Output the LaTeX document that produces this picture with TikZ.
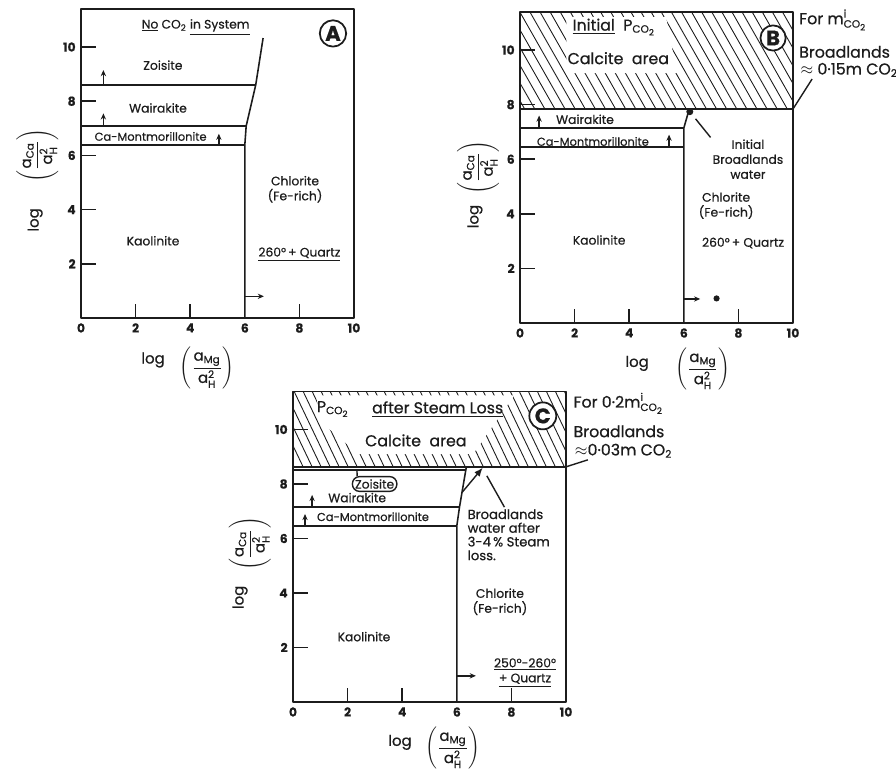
\documentclass[tikz,border=0pt]{standalone}
\usepackage{fontspec}
\usepackage{amsmath}
\setmainfont{Poppins}[FakeBold=0.6]
\usetikzlibrary{arrows.meta,calc}
\definecolor{ink}{RGB}{28,28,28}

\newcommand{\cotwo}{CO\textsubscript{2}}
\newcommand{\yfrac}{$\left(\rule[-10pt]{0pt}{23pt}\dfrac{\text{a}_{\text{Ca}}}{\text{a}^{\text{2}}_{\text{H}}}\right)$}
\newcommand{\xfrac}{$\left(\rule[-10pt]{0pt}{23pt}\dfrac{\text{a}_{\text{Mg}}}{\text{a}^{\text{2}}_{\text{H}}}\right)$}

% frame, ticks and tick labels of one panel
\newcommand{\panelframe}[1]{%
  \draw[frame] (0,0) rectangle (10,11.4);
  \foreach \t in {2,4,...,10} {
    \draw[frame] (0,\t) -- (0.55,\t);
    \node[tick,anchor=east] (#1y\t) at (-0.12,\t) {\t};
  }
  \foreach \t in {2,4,8} \draw[frame] (\t,0) -- (\t,0.5);
  \foreach \t in {0,2,...,10} \node[tick,anchor=north] (#1x\t) at (\t,-0.12) {\t};
}
% diagonal hatching: bottom, top, run, spacing
\newcommand{\hatchband}[4]{%
  \begin{scope}
    \clip (0,#1) rectangle (10,#2);
    \foreach \i in {0,...,45} \draw[hatch] (\i*#4-2.6,#2) -- ++(#3,#1-#2);
  \end{scope}
}

\begin{document}
\begin{tikzpicture}[
  line join=round,
  every node/.style={font=\fontsize{7}{8.5}\selectfont, text=ink, inner sep=1pt},
  frame/.style={draw=ink, line width=0.9pt},
  bound/.style={draw=ink, line width=0.9pt},
  hatch/.style={draw=ink, line width=0.5pt},
  up/.style={draw=ink, line width=0.8pt, -{Stealth[length=3.5pt,width=3pt]}},
  ptr/.style={draw=ink, line width=0.8pt},
  tick/.style={font=\fontsize{7}{8}\selectfont\bfseries},
  axl/.style={font=\fontsize{8.5}{10}\selectfont},
  big/.style={font=\fontsize{9}{10}\selectfont},
  note/.style={font=\fontsize{9}{10}\selectfont, anchor=west},
  circ/.style={circle, draw=ink, line width=1pt, fill=white, inner sep=1pt,
               minimum size=0.48cm, font=\fontsize{12}{12}\selectfont\bfseries},
  dot/.style={circle, fill=ink, inner sep=0pt, minimum size=4pt},
  clear/.style={fill=white, draw=none}
]
\useasboundingbox (0,0) rectangle (17.92,15.52);

% ---- panel A
\begin{scope}[shift={(1.62cm,9.16cm)}, x=0.546cm, y=0.542cm]
  \panelframe{A}
  \draw[bound] (6,0) -- (6,6.38) -- (6.05,7.08) -- (6.4,8.6) -- (6.67,10.33);
  \draw[bound] (0,8.6) -- (6.4,8.6) (0,7.08) -- (6.05,7.08) (0,6.38) -- (6,6.38);
  \draw[up] (0.82,8.6) -- (0.82,9.15);
  \draw[up] (0.82,7.08) -- (0.82,7.55);
  \draw[up] (5.05,6.38) -- (5.05,6.8);
  \draw[up] (6,0.8) -- (6.7,0.8);
  \node (titA) at (4.2,10.74) {\underline{No}\ \cotwo\ \underline{in System}};
  \node (zoiA) at (3.0,9.33) {Zoisite};
  \node (waiA) at (2.82,7.75) {Wairakite};
  \node[font=\fontsize{6.5}{8}\selectfont] (monA) at (2.55,6.7) {Ca-Montmorillonite};
  \node (kaoA) at (2.64,2.85) {Kaolinite};
  \node[align=center] (chlA) at (7.84,4.75) {Chlorite\\(Fe-rich)};
  \node (tqA) at (8.0,2.35) {\underline{260°\,+ Quartz}};
  \node[circ] (circA) at (9.23,10.5) {A};
  \node[axl,rotate=90] (ylogA) at (-1.68,3.62) {log};
  \node[axl,rotate=90] (yfrA) at (-1.6,6.0) {\yfrac};
  \node[axl] (xlogA) at (2.64,-1.55) {log};
  \node[axl] (xfrA) at (4.62,-1.85) {\xfrac};
\end{scope}

% ---- panel B
\begin{scope}[shift={(10.40cm,9.06cm)}, x=0.546cm, y=0.546cm]
  \hatchband{7.84}{11.4}{2.03}{0.37}
  \fill[clear] (1.7,11.2) -- (5.35,11.2) -- (5.75,9.15) -- (1.7,9.15) -- cycle;
  \panelframe{B}
  \draw[bound] (0,7.84) -- (10,7.84);
  \draw[bound] (6,0) -- (6,7.14) -- (6.2,7.84);
  \draw[bound] (0,7.14) -- (6,7.14) (0,6.45) -- (6,6.45);
  \draw[up] (0.7,7.14) -- (0.7,7.6);
  \draw[up] (5.46,6.45) -- (5.46,6.9);
  \draw[up] (6,0.88) -- (6.6,0.88);
  \node[dot] (dotB) at (6.22,7.74) {};
  \node[dot, minimum size=3.5pt] (blobB) at (7.2,0.9) {};
  \coordinate (cornerB) at (10,7.84);
  \node[big] (pcoB) at (3.45,10.84) {\underline{Initial}\ \ P$_{\text{\cotwo}}$};
  \node[big] (calB) at (3.6,9.7) {Calcite\ \ area};
  \node (waiB) at (2.38,7.46) {Wairakite};
  \node[font=\fontsize{6.5}{8}\selectfont] (monB) at (2.67,6.65) {Ca-Montmorillonite};
  \node (kaoB) at (2.9,3.04) {Kaolinite};
  \node[align=center] (chlB) at (7.55,4.3) {Chlorite\\(Fe-rich)};
  \node (tqB) at (8.17,2.93) {260°\,+ Quartz};
  \node[align=center] (watB) at (8.35,6.0) {Initial\\Broadlands\\water};
  \draw[ptr, shorten >=3pt] (watB.north west) -- (dotB);
  \node[circ] (circB) at (9.27,10.44) {B};
  \node[note] (forB) at (10.15,11.1) {For m$^{\text{i}}_{\text{\cotwo}}$};
  \node[note] (bdB) at (10.15,9.93) {Broadlands};
  \node[note] (ppmB) at (10.2,9.27) {$\approx$ 0·15m \cotwo};
  \draw[ptr] ($(ppmB.south west)+(0.5,0)$) -- (cornerB);
  \node[axl,rotate=90] (ylogB) at (-1.65,3.9) {log};
  \node[axl,rotate=90] (yfrB) at (-1.54,5.7) {\yfrac};
  \node[axl] (xlogB) at (4.29,-1.48) {log};
  \node[axl] (xfrB) at (6.7,-1.7) {\xfrac};
\end{scope}

% ---- panel C
\begin{scope}[shift={(5.86cm,1.48cm)}, x=0.546cm, y=0.545cm]
  \hatchband{8.63}{11.4}{1.32}{0.33}
  \fill[clear] (0.85,11.25) -- (8.1,11.25) -- (6.6,9.1) -- (2.4,9.1) -- (1.0,10.3) -- cycle;
  \panelframe{C}
  \draw[bound] (0,8.63) -- (10,8.63);
  \draw[bound] (0,8.52) -- (6.33,8.52);
  \draw[bound] (6,0) -- (6,6.46) -- (6.1,7.16) -- (6.35,8.63);
  \draw[bound] (0,7.16) -- (6.1,7.16) (0,6.46) -- (6,6.46);
  \draw[up] (0.7,7.16) -- (0.7,7.6);
  \draw[up] (0.44,6.46) -- (0.44,6.9);
  \draw[up] (6,0.96) -- (6.7,0.96);
  \coordinate (stC) at (6.2,7.7);
  \coordinate (bwC) at (6.95,8.6);
  \coordinate (bwtipC) at (7.1,8.3);
  \coordinate (capC) at (2.34,8.52);
  \coordinate (cornerC) at (10,8.63);
  \draw[ptr, -{Latex[length=5pt,width=4pt]}] (stC) -- (bwC);
  \node[big] (pcoC) at (1.47,10.75) {P$_{\text{\cotwo}}$};
  \node[big] (aslC) at (5.3,10.75) {\underline{after\ Steam\ Loss}};
  \node[big] (calC) at (4.5,9.6) {Calcite\ \ area};
  \node[draw=ink, line width=0.8pt, rounded corners=4pt, inner sep=1.5pt] (zoiC) at (2.99,8.0) {Zoisite};
  \draw[ptr] ($(zoiC.north west)+(0.2,0)$) -- (capC);
  \node (waiC) at (2.35,7.5) {Wairakite};
  \node[font=\fontsize{6.5}{8}\selectfont] (monC) at (2.93,6.8) {Ca-Montmorillonite};
  \node (kaoC) at (2.6,2.4) {Kaolinite};
  \node[align=center] (chlC) at (7.58,3.68) {Chlorite\\(Fe-rich)};
  \node[align=center] (tqC) at (8.5,1.08) {\underline{250°-260°}\\\underline{+ Quartz}};
  \node[align=left, anchor=north west, font=\fontsize{7.5}{7.8}\selectfont] (bwlC) at (6.32,7.15)
     {Broadlands\\water after\\3-4\,\% Steam\\loss.};
  \draw[ptr] ($(bwlC.north west)!0.45!(bwlC.north east)$) -- (bwtipC);
  \node[circ] (circC) at (9.15,10.5) {C};
  \node[note] (forC) at (10.2,10.96) {For 0·2m$^{\text{i}}_{\text{\cotwo}}$};
  \node[note] (bdC) at (10.2,9.93) {Broadlands};
  \node[note] (ppmC) at (10.25,9.22) {$\approx$0·03m \cotwo};
  \draw[ptr] ($(ppmC.south west)+(0.55,0)$) -- (cornerC);
  \node[axl,rotate=90] (ylogC) at (-1.94,3.84) {log};
  \node[axl,rotate=90] (yfrC) at (-1.58,5.8) {\yfrac};
  \node[axl] (xlogC) at (3.92,-1.48) {log};
  \node[axl] (xfrC) at (5.86,-1.7) {\xfrac};
\end{scope}
\end{tikzpicture}
\end{document}
